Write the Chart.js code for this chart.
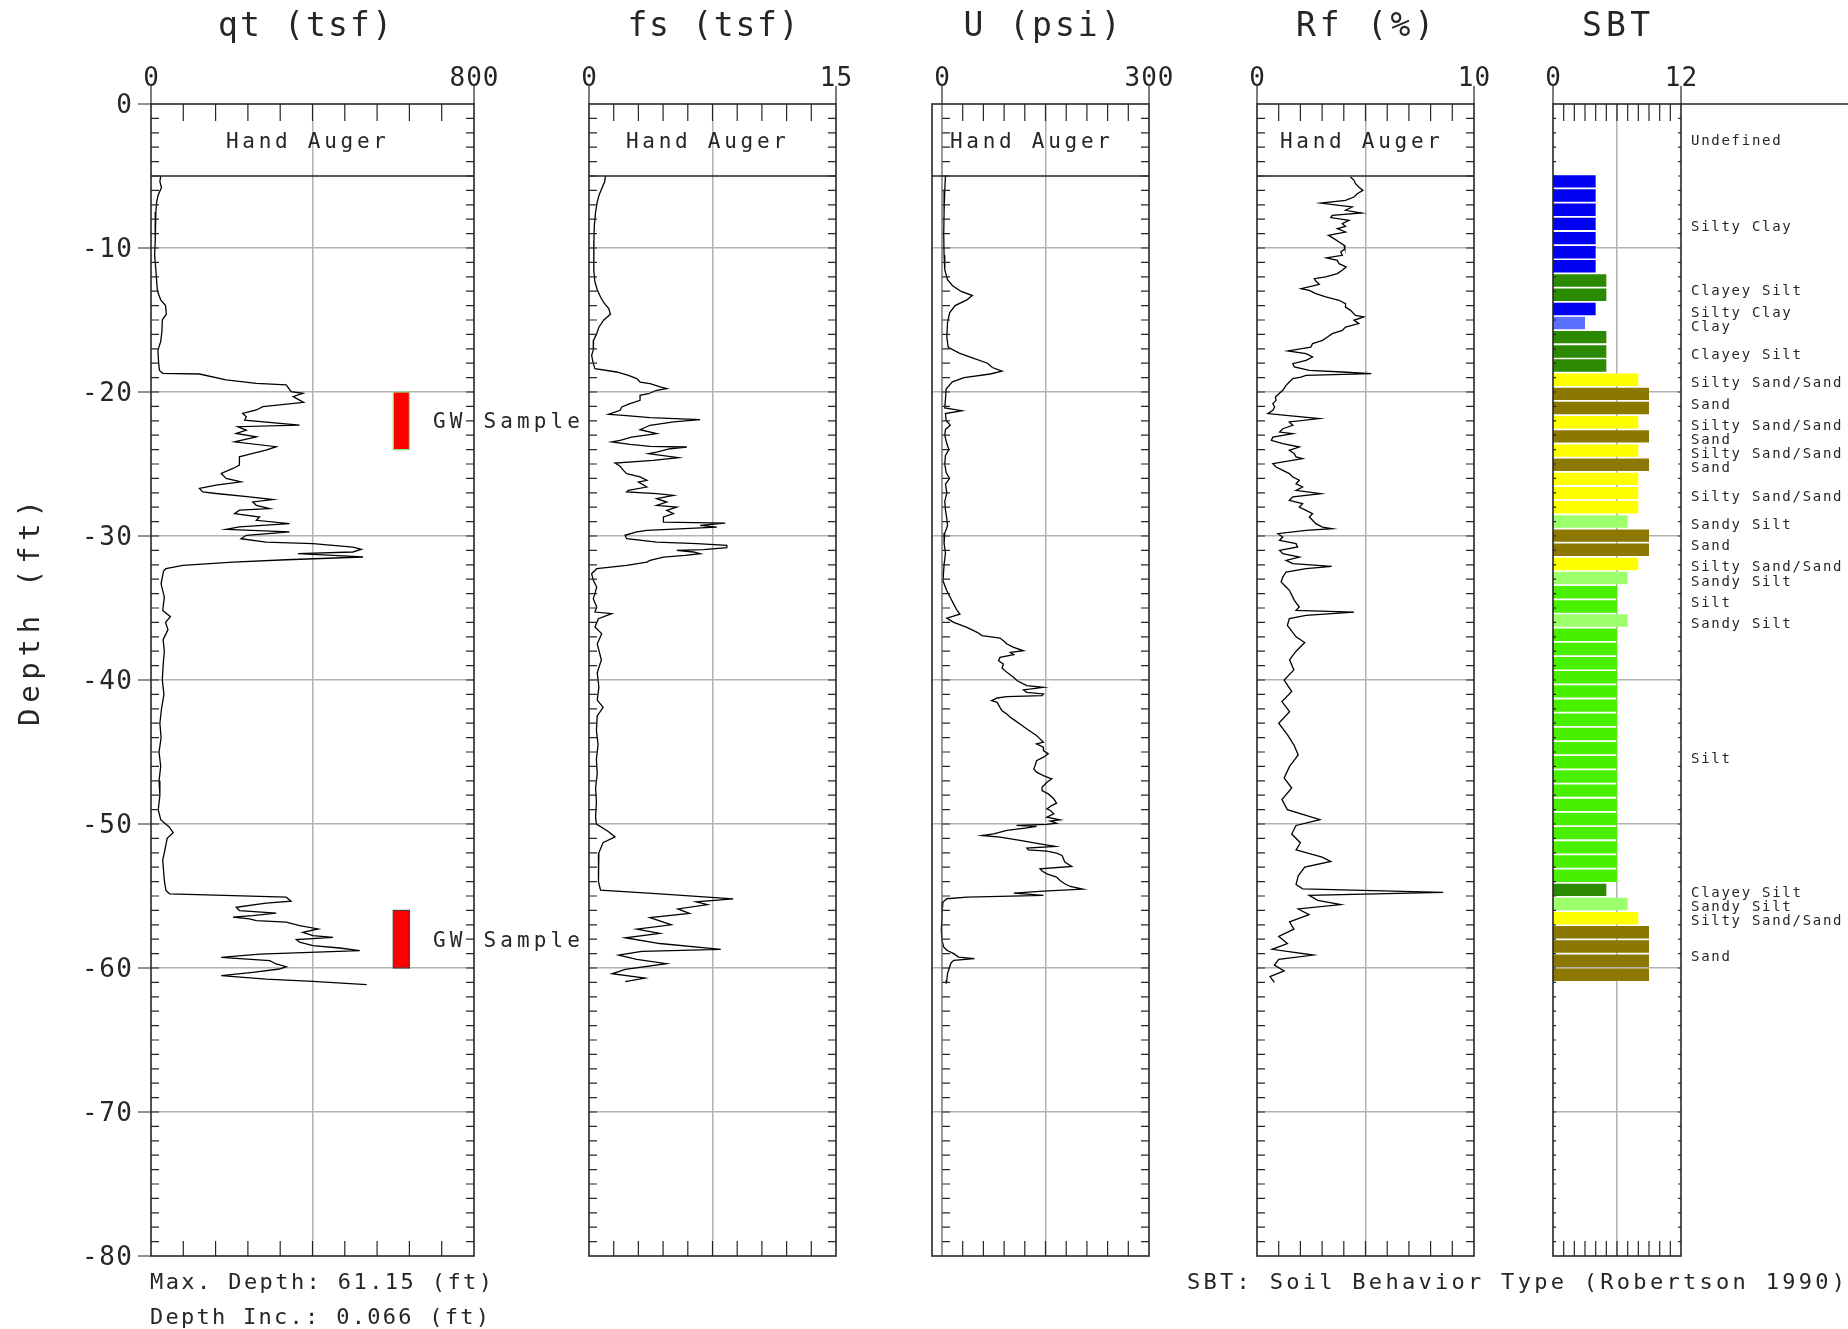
<!DOCTYPE html>
<html>
<head>
<meta charset="utf-8">
<script src="https://cdn.jsdelivr.net/npm/chart.js@4.4.0/dist/chart.umd.min.js"></script>
<style>
  body { margin: 0; background: #fff; width: 1848px; height: 1329px; overflow: hidden; position: relative; }
  canvas { position: absolute; left: 0; top: 0; }
</style>
</head>
<body>
<canvas id="qt" width="1848" height="1329"></canvas>
<canvas id="fs" width="1848" height="1329"></canvas>
<canvas id="u" width="1848" height="1329"></canvas>
<canvas id="rf" width="1848" height="1329"></canvas>
<canvas id="sbt" width="1848" height="1329"></canvas>
<script>
// ---- data (depth in ft, value) ----
const depthTicks = [0, -10, -20, -30, -40, -50, -60, -70, -80];
const qtAxis = [0, 800], fsAxis = [0, 15], uAxis = [0, 300], rfAxis = [0, 10], sbtAxis = [0, 12];

const qtData = [[5.0,24],[5.4,22],[5.8,26],[6.3,18],[6.8,14],[7.5,12],[8.5,10],[9.5,11],[10.5,9],[11.5,12],[12.3,14],[13.0,16],[13.6,24],[14.0,36],[14.6,38],[15.0,28],[15.8,27],[16.5,24],[17.1,17],[18.0,19],[18.5,21],[18.7,29],[18.75,120],[19.16,186],[19.4,261],[19.51,335],[19.98,347],[20.09,376],[20.32,352],[20.72,378],[21.02,277],[21.25,261],[21.48,227],[21.72,236],[21.95,232],[22.3,368],[22.41,215],[22.65,236],[22.88,211],[23.11,261],[23.46,207],[23.8,310],[24.04,285],[24.27,252],[24.5,219],[25.08,219],[25.31,203],[25.66,174],[26.0,186],[26.24,223],[26.47,161],[26.7,120],[26.94,128],[27.05,161],[27.29,244],[27.47,302],[27.63,252],[27.87,261],[28.1,294],[28.21,219],[28.45,207],[28.68,269],[28.91,261],[29.14,343],[29.37,219],[29.54,186],[29.72,343],[29.95,236],[30.19,223],[30.42,285],[30.53,401],[30.77,500],[30.93,521],[31.11,500],[31.23,364],[31.35,451],[31.46,525],[31.65,335],[31.81,203],[32.04,79],[32.27,37],[32.44,31],[33.32,25],[34.25,33],[35.17,29],[35.6,48],[36.0,36],[36.5,42],[37.2,30],[38.0,33],[39.0,30],[40.0,28],[41.0,32],[42.0,26],[43.0,22],[44.0,25],[45.0,20],[46.0,24],[47.0,20],[48.0,22],[49.0,18],[49.7,24],[50.2,45],[50.6,55],[51.0,40],[52.0,33],[52.5,29],[53.92,33],[54.62,37],[54.85,46],[54.97,203],[55.08,335],[55.36,347],[55.5,285],[55.78,211],[56.01,219],[56.19,310],[56.36,252],[56.47,203],[56.59,244],[56.71,261],[56.82,335],[57.05,368],[57.29,414],[57.52,376],[57.75,401],[57.87,451],[58.03,360],[58.21,368],[58.45,401],[58.61,467],[58.79,517],[59.03,269],[59.26,174],[59.49,294],[59.72,310],[59.91,335],[60.07,318],[60.3,252],[60.53,174],[60.77,285],[60.93,401],[61.16,534]];

const fsData = [[5.0,1.0],[5.4,0.95],[5.8,0.8],[6.3,0.62],[6.8,0.5],[7.5,0.4],[8.5,0.32],[9.5,0.3],[10.5,0.28],[11.5,0.3],[12.3,0.35],[12.9,0.5],[13.4,0.7],[13.8,0.9],[14.2,1.2],[14.6,1.3],[15.0,0.9],[15.5,0.6],[16.0,0.45],[16.4,0.28],[17.1,0.26],[17.45,0.16],[18.03,0.26],[18.38,0.36],[18.61,1.68],[18.84,2.39],[19.07,2.9],[19.31,3.1],[19.42,3.71],[19.65,4.32],[19.77,4.72],[19.88,4.11],[20.12,3.61],[20.23,3.1],[20.58,3.1],[20.81,2.49],[21.04,1.99],[21.27,1.89],[21.55,1.18],[21.62,2.09],[21.78,3.71],[21.92,6.75],[22.08,5.13],[22.31,3.71],[22.62,3.1],[22.89,4.11],[23.13,2.59],[23.36,1.89],[23.47,1.38],[23.63,2.49],[23.77,3.71],[23.82,5.94],[23.94,4.93],[24.17,4.11],[24.28,3.61],[24.56,5.43],[24.75,3.91],[24.93,1.58],[25.16,1.89],[25.44,2.09],[25.67,2.29],[25.9,3.1],[26.13,3.51],[26.25,3.0],[26.6,3.51],[26.83,2.39],[26.94,2.29],[27.06,4.11],[27.18,5.13],[27.41,4.11],[27.64,4.72],[27.87,4.11],[27.99,5.33],[28.22,4.72],[28.45,5.13],[28.68,4.52],[29.03,4.52],[29.1,8.27],[29.26,6.75],[29.38,7.76],[29.61,3.51],[29.72,2.9],[29.95,2.19],[30.19,2.29],[30.42,4.11],[30.53,6.55],[30.65,8.37],[30.81,8.37],[30.95,6.95],[31.0,5.33],[31.11,6.34],[31.23,6.75],[31.34,5.84],[31.46,4.52],[31.69,3.71],[31.81,3.51],[32.04,2.29],[32.27,0.47],[32.62,0.16],[33.08,0.26],[33.54,0.47],[34.0,0.36],[34.35,0.26],[34.93,0.47],[35.28,0.36],[35.39,1.38],[35.74,0.57],[36.32,0.36],[36.78,0.77],[37.5,0.5],[38.6,0.75],[39.5,0.5],[40.5,0.6],[41.4,0.5],[41.9,0.86],[42.5,0.5],[43.5,0.45],[44.5,0.55],[45.5,0.45],[46.5,0.5],[47.5,0.4],[48.5,0.45],[49.5,0.4],[50.0,0.45],[50.5,1.15],[50.9,1.58],[51.3,0.85],[52.0,0.6],[53.0,0.55],[54.0,0.6],[54.6,0.7],[54.85,4.3],[55.2,8.76],[55.4,6.5],[55.6,7.2],[55.9,5.4],[56.2,6.1],[56.5,3.7],[57.0,5.0],[57.3,2.9],[57.6,4.3],[57.9,2.2],[58.3,4.3],[58.7,8.0],[58.85,3.2],[59.1,1.8],[59.4,2.9],[59.7,4.7],[60.1,2.2],[60.4,1.4],[60.7,3.4],[60.95,2.2]];

const uData = [[5.0,5],[6.0,4],[7.5,3],[9.0,2.5],[10.5,3],[11.5,4],[12.2,8],[12.6,15],[13.0,27],[13.3,44],[13.6,36],[14.0,19],[14.5,11],[15.2,8],[16.2,7],[16.9,9],[17.3,25],[17.6,42],[18.0,66],[18.3,73],[18.55,87],[18.75,70],[19.0,32],[19.3,15],[19.8,6],[20.5,5],[21.1,4],[21.3,29],[21.5,5],[22.0,6],[22.3,12],[22.6,5],[23.0,4],[23.6,7],[24.0,10],[24.4,5],[25.0,4],[25.6,6],[26.0,11],[26.4,5],[27.0,7],[27.6,4],[28.2,5],[28.8,7],[29.3,8],[29.8,4],[30.5,3],[31.2,5],[32.0,3],[33.11,1.4],[33.8,7],[34.27,12],[34.73,17],[35.19,22],[35.42,26],[35.7,7],[36.0,17],[36.35,36],[36.69,51],[36.92,58],[37.09,84],[37.27,89],[37.5,94],[37.73,104],[37.97,118],[38.08,99],[38.24,104],[38.43,84],[38.66,82],[38.89,89],[39.17,87],[39.47,94],[39.82,104],[40.05,109],[40.39,123],[40.51,147],[40.69,118],[40.86,123],[40.97,147],[41.09,145],[41.16,94],[41.25,80],[41.43,72],[41.55,80],[41.9,84],[42.13,87],[42.36,94],[42.59,99],[42.82,106],[43.05,113],[43.4,123],[43.63,130],[43.86,137],[44.09,142],[44.32,147],[44.44,137],[44.67,147],[44.9,147],[45.13,154],[45.36,147],[45.6,137],[45.94,135],[46.17,133],[46.4,137],[46.64,147],[46.87,159],[47.1,152],[47.45,145],[47.68,145],[47.91,154],[48.25,162],[48.55,166],[48.72,159],[48.95,152],[49.06,157],[49.29,162],[49.53,152],[49.71,171],[49.8,157],[49.94,166],[50.03,152],[50.1,108],[50.17,137],[50.27,123],[50.45,94],[50.68,75],[50.8,58],[50.91,84],[51.14,113],[51.38,142],[51.56,164],[51.68,123],[51.79,125],[51.88,152],[52.02,166],[52.18,174],[52.42,176],[52.65,178],[52.95,188],[53.11,142],[53.27,145],[53.46,152],[53.69,166],[53.92,171],[54.15,178],[54.34,186],[54.52,204],[54.66,147],[54.8,104],[54.89,128],[54.96,147],[55.08,36],[55.19,7],[55.42,1.4],[56.23,0],[57.39,-1],[58.08,0],[58.54,2.4],[58.77,7],[59.0,17],[59.24,24],[59.35,47],[59.47,17],[59.65,13],[59.93,11],[60.39,8],[60.85,7],[61.09,6]];

const rfData = [[5.07,4.31],[5.3,4.47],[5.53,4.54],[5.76,4.69],[6.0,4.88],[6.23,4.62],[6.46,4.47],[6.69,4.08],[6.88,2.94],[7.04,3.78],[7.15,4.39],[7.38,4.08],[7.57,4.82],[7.73,3.47],[7.89,3.4],[8.08,4.24],[8.31,3.93],[8.5,4.08],[8.66,3.7],[8.89,4.08],[9.12,3.29],[9.35,3.55],[9.58,3.78],[9.81,4.01],[10.05,4.05],[10.28,3.86],[10.51,3.93],[10.69,3.2],[10.86,3.7],[11.09,3.78],[11.32,4.11],[11.55,3.93],[11.78,3.7],[12.01,3.17],[12.13,2.64],[12.29,2.71],[12.52,2.87],[12.82,2.03],[12.94,2.41],[13.17,2.71],[13.4,3.17],[13.63,3.78],[13.87,4.08],[14.1,4.08],[14.33,4.31],[14.68,4.54],[14.79,4.92],[15.02,4.47],[15.25,4.69],[15.49,4.08],[15.72,3.93],[15.95,3.47],[16.18,3.25],[16.41,3.02],[16.64,2.56],[16.88,2.48],[17.15,1.42],[17.34,2.26],[17.57,2.56],[17.8,2.26],[18.03,1.65],[18.26,1.72],[18.5,2.41],[18.61,3.93],[18.73,5.27],[18.84,2.26],[18.96,2.03],[19.07,1.65],[19.31,1.49],[19.54,1.34],[19.88,1.19],[20.12,1.01],[20.35,0.85],[20.58,0.88],[20.81,0.73],[21.04,0.81],[21.27,0.73],[21.5,0.5],[21.62,1.34],[21.85,2.87],[22.08,1.49],[22.31,1.65],[22.55,1.19],[22.78,1.04],[22.89,1.65],[23.13,0.73],[23.36,0.66],[23.59,1.19],[23.82,1.95],[24.05,1.49],[24.28,1.72],[24.51,1.8],[24.63,2.1],[24.98,0.73],[25.21,0.88],[25.44,1.19],[25.67,1.49],[25.9,1.65],[26.13,1.95],[26.37,1.8],[26.6,2.1],[26.83,1.8],[27.06,2.94],[27.29,1.65],[27.52,1.49],[27.75,2.1],[27.99,1.95],[28.22,2.26],[28.45,2.56],[28.68,2.41],[28.91,2.56],[29.14,2.71],[29.38,3.02],[29.49,3.47],[29.61,2.26],[29.84,0.96],[30.07,1.19],[30.3,1.04],[30.53,1.8],[30.76,1.87],[31.0,1.04],[31.23,1.19],[31.46,1.95],[31.69,1.34],[31.92,1.65],[32.11,3.44],[32.27,2.26],[32.5,1.34],[32.85,1.19],[33.19,1.11],[33.54,1.34],[33.77,1.49],[34.0,1.57],[34.47,1.72],[34.93,1.95],[35.16,1.8],[35.28,4.47],[35.51,2.26],[35.74,1.49],[36.2,1.4],[37.0,1.8],[37.4,2.2],[38.0,1.8],[38.6,1.5],[39.3,1.7],[40.0,1.25],[40.8,1.6],[41.5,1.15],[42.2,1.5],[43.0,1.0],[43.8,1.4],[44.5,1.7],[45.2,1.9],[46.0,1.5],[46.8,1.25],[47.5,1.6],[48.3,1.15],[49.0,1.4],[49.7,2.9],[50.1,1.8],[50.7,1.6],[51.3,2.0],[51.8,1.8],[52.3,3.0],[52.6,3.4],[53.0,2.2],[53.6,1.9],[54.2,1.8],[54.5,2.1],[54.75,8.58],[54.95,2.4],[55.3,2.8],[55.6,3.86],[55.9,1.9],[56.3,2.4],[56.8,1.5],[57.3,1.7],[57.8,1.0],[58.3,1.4],[58.7,0.7],[59.1,2.6],[59.4,1.0],[59.8,0.8],[60.2,1.25],[60.6,0.6],[61.0,0.8]];

// GW sample intervals (depth from, depth to) drawn at qt 600..640
const gwDepths = [[20, 24], [56, 60]];
const gwQt = [600, 640];

// SBT layers (top depth of each 0.3 m layer, zone number)
const sbtTop = [4.88,5.86,6.85,7.83,8.82,9.80,10.78,11.77,12.75,13.74,14.72,15.70,16.69,17.67,18.66,19.64,20.62,21.61,22.59,23.58,24.56,25.54,26.53,27.51,28.50,29.48,30.46,31.45,32.43,33.42,34.40,35.38,36.37,37.35,38.34,39.32,40.30,41.29,42.27,43.26,44.24,45.22,46.21,47.19,48.18,49.16,50.14,51.13,52.11,53.10,54.08,55.06,56.05,57.03,58.02,59.00,59.98];
const sbtZone = [4,4,4,4,4,4,4,5,5,4,3,5,5,5,8,9,9,8,9,8,9,8,8,8,7,9,9,8,7,6,6,7,6,6,6,6,6,6,6,6,6,6,6,6,6,6,6,6,6,6,5,7,8,9,9,9,9];
const sbtLayerThick = 0.984;
const zoneColor = { 3: '#5c70ff', 4: '#0000f2', 5: '#2b8a02', 6: '#48f000', 7: '#9cff6c', 8: '#ffff00', 9: '#8c7800' };

const sbtLabelText = ['Undefined','Silty Clay','Clayey Silt','Silty Clay','Clay','Clayey Silt','Silty Sand/Sand','Sand','Silty Sand/Sand','Sand','Silty Sand/Sand','Sand','Silty Sand/Sand','Sandy Silt','Sand','Silty Sand/Sand','Sandy Silt','Silt','Sandy Silt','Silt','Clayey Silt','Sandy Silt','Silty Sand/Sand','Sand'];
const sbtLabelDepth = [2.5,8.49,12.93,14.43,15.4,17.35,19.3,20.8,22.3,23.27,24.24,25.2,27.2,29.15,30.6,32.1,33.1,34.58,36.04,45.4,54.73,55.7,56.68,59.15];

// ---- layout ----
const W = 1848, H = 1329, TOP = 104, BOTTOM = 1256;
const INK = '#262626';
const GRID = '#b2b2b2';
const FONT = '"DejaVu Sans Mono", monospace';

function drawText(ctx, text, x, y, size, opts) {
  opts = opts || {};
  ctx.save();
  ctx.font = size + 'px ' + FONT;
  ctx.fillStyle = INK;
  ctx.letterSpacing = '0px';
  const w0 = ctx.measureText(text).width;
  const n = text.length;
  let sp = opts.spacing || 0;
  if (opts.width) sp = (opts.width - w0) / Math.max(n - 1, 1);
  ctx.letterSpacing = sp + 'px';
  const total = w0 + sp * (n - 1);
  let x0 = x;
  if (opts.align === 'center') x0 = x - total / 2;
  else if (opts.align === 'right') x0 = x - total;
  ctx.textAlign = 'left';
  ctx.textBaseline = 'alphabetic';
  if (opts.rotate) {
    ctx.translate(x, y);
    ctx.rotate(opts.rotate);
    ctx.fillText(text, -total / 2, size * 0.365);
  } else {
    ctx.fillText(text, x0, y + size * 0.365);
  }
  ctx.restore();
}

function depthScale() {
  return {
    type: 'linear', min: -80, max: 0, offset: false,
    ticks: { display: false },
    border: { display: false },
    grid: { color: GRID, lineWidth: 1.5, drawTicks: false, offset: false },
    afterBuildTicks: s => { s.ticks = depthTicks.filter(v => v > -80 && v < 0).map(v => ({ value: v })); },
    afterFit: s => { s.width = 0; }
  };
}

function valueScale(min, max, mid) {
  return {
    type: 'linear', min: min, max: max, offset: false,
    ticks: { display: false },
    border: { display: false },
    grid: { color: GRID, lineWidth: 1.5, drawTicks: false, offset: false },
    afterBuildTicks: s => { s.ticks = [{ value: mid }]; },
    afterFit: s => { s.height = 0; }
  };
}

// frame, ticks and labels of one track
function decor(o) {
  return {
    id: 'decor',
    afterDatasetsDraw(chart) {
      const ctx = chart.ctx, a = chart.chartArea, xs = chart.scales.x, ys = chart.scales.y;
      const dy = d => ys.getPixelForValue(-d);
      const p0 = xs.getPixelForValue(o.axis[0]), p1 = xs.getPixelForValue(o.axis[1]);
      const sideX = o.zeroLine ? p0 : a.left;
      ctx.save();
      ctx.strokeStyle = INK;
      ctx.lineWidth = 1.2;
      ctx.beginPath();
      for (let k = 1; k < o.div; k++) {
        const x = xs.getPixelForValue(o.axis[0] + (o.axis[1] - o.axis[0]) * k / o.div);
        ctx.moveTo(x, a.top); ctx.lineTo(x, a.top + 17);
        ctx.moveTo(x, a.bottom); ctx.lineTo(x, a.bottom - 15);
      }
      ctx.moveTo(p0, a.top - 18); ctx.lineTo(p0, a.top);
      ctx.moveTo(p1, a.top - 18); ctx.lineTo(p1, a.top);
      for (let d = 1; d < 80; d++) {
        const y = dy(d);
        ctx.moveTo(sideX, y); ctx.lineTo(sideX + o.side, y);
        ctx.moveTo(a.right, y); ctx.lineTo(a.right - o.side, y);
      }
      ctx.stroke();

      if (o.zeroLine) {
        ctx.strokeStyle = '#555';
        ctx.beginPath(); ctx.moveTo(p0, a.top); ctx.lineTo(p0, a.bottom); ctx.stroke();
        ctx.strokeStyle = INK;
      }
      if (o.handAuger) {
        ctx.lineWidth = 1.5;
        ctx.beginPath(); ctx.moveTo(a.left, dy(5)); ctx.lineTo(a.right, dy(5)); ctx.stroke();
        drawText(ctx, 'Hand Auger', o.handAuger, dy(2.5), 21, { width: 160, align: 'center' });
      }
      if (o.gw) {
        gwDepths.forEach(g => {
          const x0 = xs.getPixelForValue(gwQt[0]), x1 = xs.getPixelForValue(gwQt[1]);
          const y0 = dy(g[0]), y1 = dy(g[1]);
          ctx.fillStyle = '#ff0000';
          ctx.fillRect(x0, y0, x1 - x0, y1 - y0);
          ctx.lineWidth = 1.2;
          ctx.strokeStyle = g[0] < 30 ? '#8de88d' : '#444';
          ctx.strokeRect(x0, y0, x1 - x0, y1 - y0);
          drawText(ctx, 'GW Sample', 433, dy((g[0] + g[1]) / 2), 21, { width: 147 });
        });
        ctx.strokeStyle = INK;
      }
      if (o.extendTop) {
        ctx.lineWidth = 1.6;
        ctx.beginPath(); ctx.moveTo(a.right, a.top); ctx.lineTo(W, a.top); ctx.stroke();
      }
      ctx.lineWidth = 1.6;
      ctx.strokeRect(a.left, a.top, a.right - a.left, a.bottom - a.top);

      if (o.depthLabels) {
        ctx.lineWidth = 1.2;
        ctx.beginPath();
        depthTicks.forEach(v => {
          const y = ys.getPixelForValue(v);
          ctx.moveTo(a.left - 13, y); ctx.lineTo(a.left, y);
          drawText(ctx, String(v), 132, y, 26, { spacing: 1.5, align: 'right' });
        });
        ctx.stroke();
        drawText(ctx, 'Depth (ft)', 28, 613, 29, { width: 226, rotate: -Math.PI / 2 });
        drawText(ctx, 'Max. Depth: 61.15 (ft)', 150, 1281, 22, { width: 342 });
        drawText(ctx, 'Depth Inc.: 0.066 (ft)', 150, 1316, 22, { width: 339 });
      }
      if (o.labels) {
        sbtLabelText.forEach((t, i) => {
          drawText(ctx, t, 1691, dy(sbtLabelDepth[i]), 14, { spacing: 1.72 });
        });
        drawText(ctx, 'SBT: Soil Behavior Type (Robertson 1990)', 1187, 1281, 22, { width: 658 });
      }
      drawText(ctx, o.title, o.titleX, 24, 33, { width: o.titleW, align: 'center' });
      drawText(ctx, String(o.axis[0]), p0, 77, 26, { align: 'center' });
      drawText(ctx, String(o.axis[1]), p1, 77, 26, { spacing: 1, align: 'center' });
      ctx.restore();
    }
  };
}

function baseOptions(left, right, xScale) {
  return {
    responsive: false, animation: false, events: [], devicePixelRatio: 1,
    layout: { autoPadding: false, padding: { left: left, right: W - right, top: TOP, bottom: H - BOTTOM } },
    plugins: { legend: { display: false }, tooltip: { enabled: false } },
    scales: { x: xScale, y: depthScale() }
  };
}

function trace(id, data, xMin, xMax, mid, left, right, o) {
  return new Chart(document.getElementById(id), {
    type: 'scatter',
    data: {
      datasets: [{
        data: data.map(p => ({ x: p[1], y: -p[0] })),
        showLine: true, borderColor: '#000', borderWidth: 1.3,
        pointRadius: 0, tension: 0
      }]
    },
    options: baseOptions(left, right, valueScale(xMin, xMax, mid)),
    plugins: [decor(o)]
  });
}

trace('qt', qtData, 0, 800, 400, 151, 474,
  { axis: qtAxis, div: 10, side: 8, title: 'qt (tsf)', titleX: 305, titleW: 174, handAuger: 306, depthLabels: true, gw: true });
trace('fs', fsData, 0, 15, 7.5, 589, 836,
  { axis: fsAxis, div: 10, side: 8, title: 'fs (tsf)', titleX: 713, titleW: 171, handAuger: 706 });
trace('u', uData, -14.5, 300, 150, 932, 1149,
  { axis: uAxis, div: 10, side: 8, title: 'U (psi)', titleX: 1042, titleW: 157, handAuger: 1030, zeroLine: true });
trace('rf', rfData, 0, 10, 5, 1257, 1474,
  { axis: rfAxis, div: 10, side: 8, title: 'Rf (%)', titleX: 1365, titleW: 138, handAuger: 1360 });

new Chart(document.getElementById('sbt'), {
  type: 'bar',
  data: {
    datasets: [{
      data: sbtZone.map((z, i) => ({ x: z, y: -(sbtTop[i] + sbtLayerThick / 2) })),
      backgroundColor: sbtZone.map(z => zoneColor[z]),
      borderWidth: 0,
      barPercentage: 0.88, categoryPercentage: 1
    }]
  },
  options: Object.assign(baseOptions(1553, 1681, valueScale(0, 12, 6)), { indexAxis: 'y' }),
  plugins: [decor({ axis: sbtAxis, div: 12, side: 3, title: 'SBT', titleX: 1616, titleW: 68, extendTop: true, labels: true })]
});
</script>
</body>
</html>
